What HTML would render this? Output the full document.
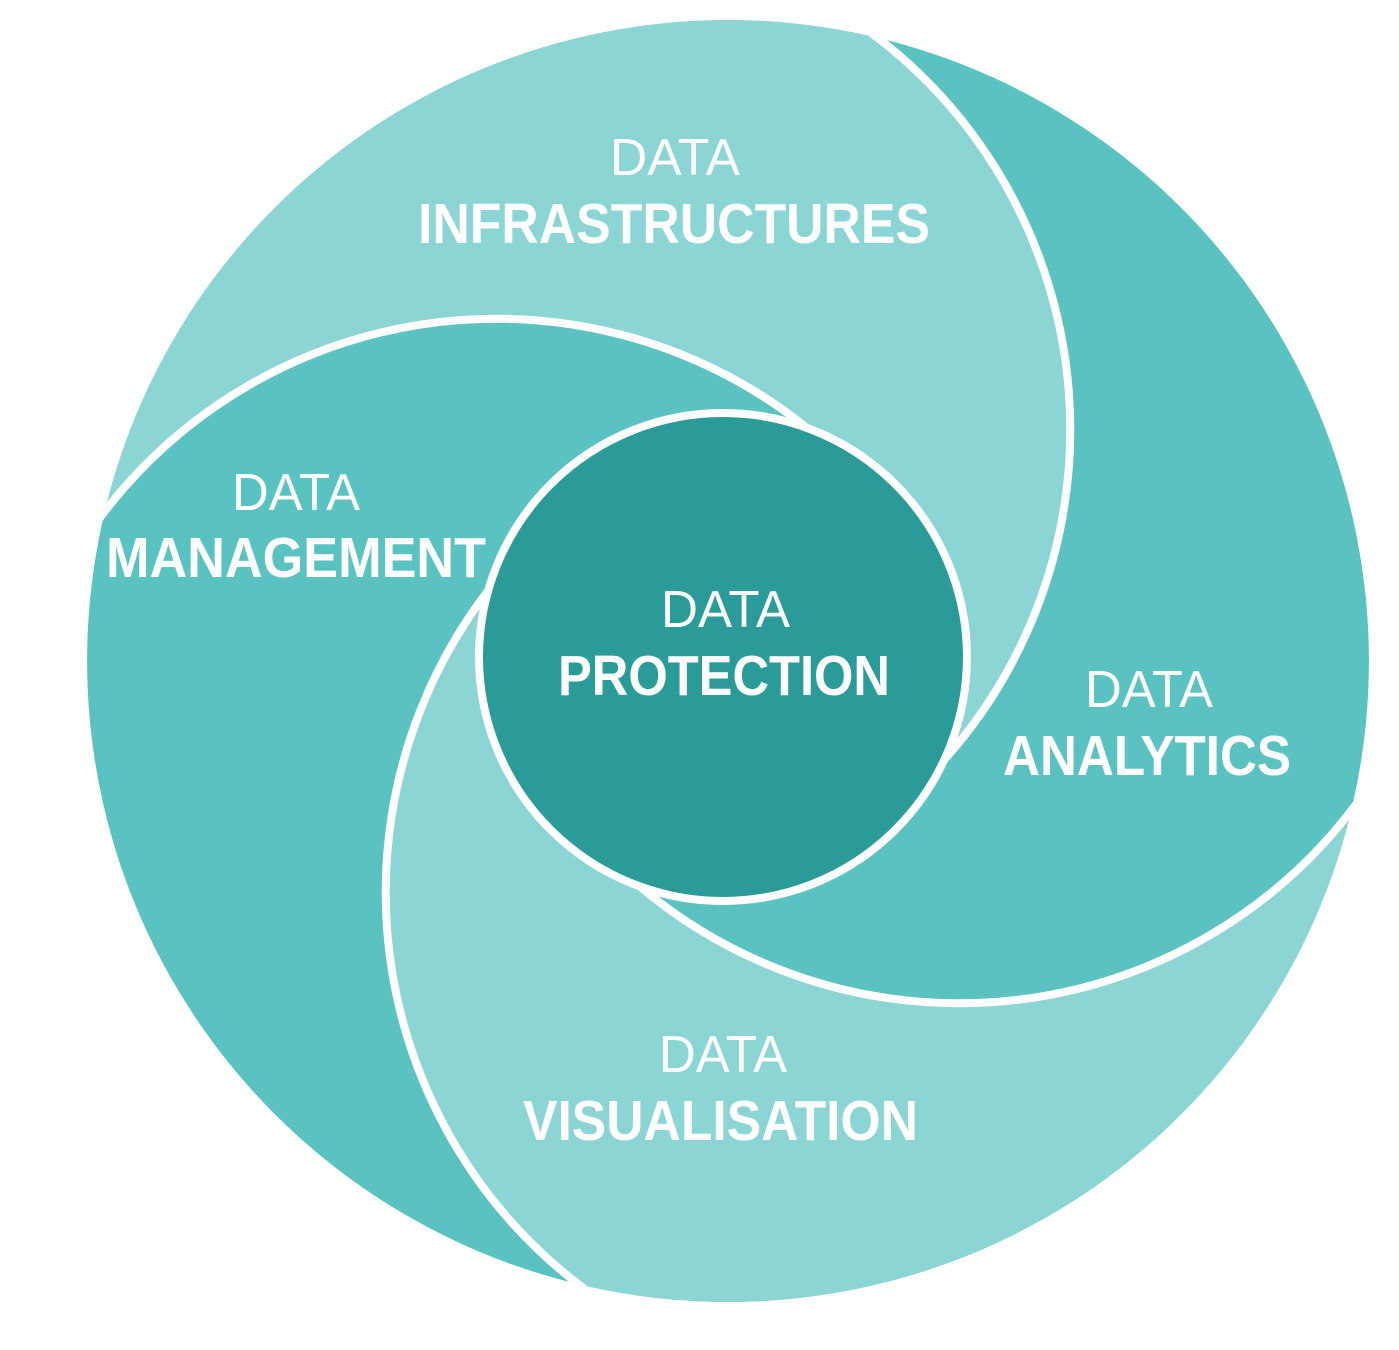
<!DOCTYPE html>
<html><head><meta charset="utf-8"><style>
html,body{margin:0;padding:0;background:#fff;}
svg{display:block;}
text{font-family:"Liberation Sans",sans-serif;fill:#fff;}
.l{font-size:52px;font-weight:normal;}
.b{font-size:57px;font-weight:bold;}
</style></head><body>
<svg width="1399" height="1350" viewBox="0 0 1399 1350" xmlns="http://www.w3.org/2000/svg">
<defs>
<clipPath id="outer"><circle cx="728" cy="661" r="641"/></clipPath>
<path id="arc" d="M 870 32 A 495 495 0 0 1 925 780" fill="none" stroke="#fff" stroke-width="8"/>
<path id="reg" d="M 870 32 A 495 495 0 0 1 925 780 L 723 657 L 847 464 A 495 495 0 0 0 99 519 L 0 519 L 0 0 L 870 0 Z" fill="#8BD5D5"/>
</defs>
<g clip-path="url(#outer)">
<circle cx="728" cy="661" r="641" fill="#5BC2C2"/>
<use href="#reg"/>
<use href="#reg" transform="rotate(180 728 661)"/>
<use href="#arc"/>
<use href="#arc" transform="rotate(90 728 661)"/>
<use href="#arc" transform="rotate(180 728 661)"/>
<use href="#arc" transform="rotate(270 728 661)"/>
</g>
<circle cx="723" cy="657" r="244" fill="#2A9B98" stroke="#fff" stroke-width="8"/>
<text class="l" x="610" y="175" textLength="130" lengthAdjust="spacingAndGlyphs">DATA</text>
<text class="b" x="418" y="243" textLength="512" lengthAdjust="spacingAndGlyphs">INFRASTRUCTURES</text>
<text class="l" x="232" y="510" textLength="128" lengthAdjust="spacingAndGlyphs">DATA</text>
<text class="b" x="106" y="577" textLength="380" lengthAdjust="spacingAndGlyphs">MANAGEMENT</text>
<text class="l" x="661" y="627" textLength="129" lengthAdjust="spacingAndGlyphs">DATA</text>
<text class="b" x="558" y="695" textLength="332" lengthAdjust="spacingAndGlyphs">PROTECTION</text>
<text class="l" x="1085" y="707" textLength="128" lengthAdjust="spacingAndGlyphs">DATA</text>
<text class="b" x="1003" y="775" textLength="288" lengthAdjust="spacingAndGlyphs">ANALYTICS</text>
<text class="l" x="659" y="1072" textLength="128" lengthAdjust="spacingAndGlyphs">DATA</text>
<text class="b" x="523" y="1140" textLength="395" lengthAdjust="spacingAndGlyphs">VISUALISATION</text>
</svg>
</body></html>
